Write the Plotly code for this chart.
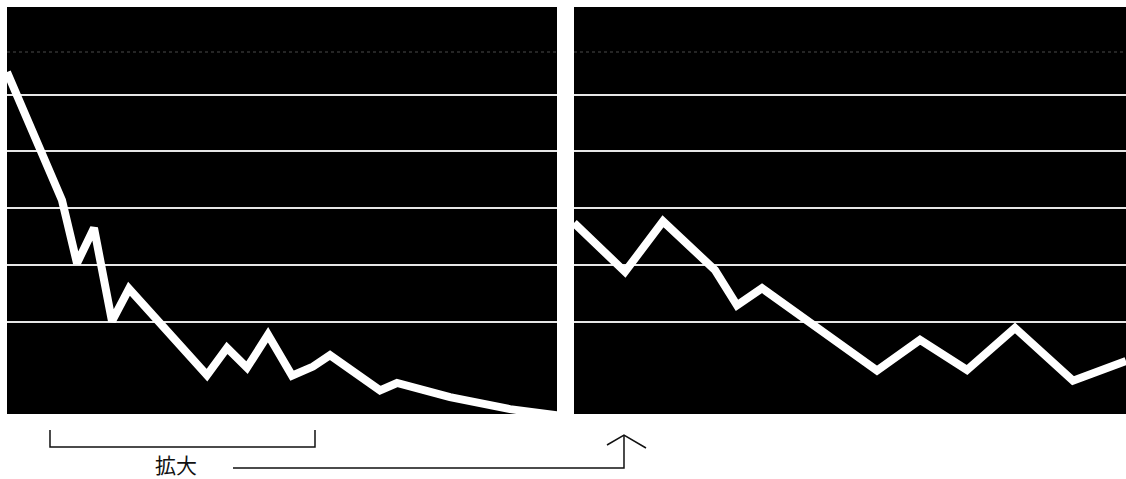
import plotly.graph_objects as go

# Full series (left panel)
full_x = [0, 11, 14, 17.4, 21, 24.4, 40, 44, 48, 52.2, 57, 61.2, 64.6, 74.6, 78, 88.6, 100.6, 110]
full_y = [64.0, 41.4, 30.3, 36.5, 20.1, 25.8, 10.6, 15.4, 11.9, 17.7, 10.5, 12.1, 14.1, 7.9, 9.2, 6.7, 4.6, 3.5]

# Magnified section (right panel)
zoom_x = [0, 10.2, 17.8, 28.2, 32.6, 37.6, 60.6, 69.2, 78.6, 88.2, 99.8, 110.4]
zoom_y = [37.4, 28.8, 37.7, 29.1, 22.9, 25.9, 11.4, 16.8, 11.5, 18.9, 9.6, 13.1]

grid_vals = [20, 30, 40, 50, 60]
caption = "拡大"

W, H = 1126, 479


def fx(x):
    return x / W


def fy(y):
    return 1 - y / H


def path(points):
    return "M " + " L ".join(f"{fx(x):.5f},{fy(y):.5f}" for x, y in points)


fig = go.Figure()
fig.add_trace(go.Scatter(x=full_x, y=full_y, mode="lines",
                         line=dict(color="white", width=8),
                         xaxis="x", yaxis="y", hoverinfo="skip"))
fig.add_trace(go.Scatter(x=zoom_x, y=zoom_y, mode="lines",
                         line=dict(color="white", width=8),
                         xaxis="x2", yaxis="y2", hoverinfo="skip"))

yax = dict(range=[3.74, 75.45], tickvals=grid_vals, showticklabels=False,
           showgrid=True, gridcolor="#e6e6e6", gridwidth=1.5, zeroline=False,
           showline=False, ticks="", fixedrange=True)
ydom = [fy(414), fy(7)]

fig.update_layout(
    width=W, height=H,
    margin=dict(l=0, r=0, t=0, b=0),
    paper_bgcolor="white",
    plot_bgcolor="black",
    showlegend=False,
    xaxis=dict(domain=[fx(7), fx(557)], range=[0, 110], showgrid=False,
               zeroline=False, showticklabels=False, ticks="", anchor="y"),
    xaxis2=dict(domain=[fx(574), 1.0], range=[0, 110.4], showgrid=False,
                zeroline=False, showticklabels=False, ticks="", anchor="y2"),
    yaxis=dict(domain=ydom, anchor="x", **yax),
    yaxis2=dict(domain=ydom, anchor="x2", **yax),
)

# faint upper rule in both panels
for xr, yr, x1 in (("x", "y", 110), ("x2", "y2", 110.4)):
    fig.add_shape(type="line", xref=xr, yref=yr, x0=0, x1=x1, y0=67.5, y1=67.5,
                  line=dict(color="rgba(200,200,200,0.25)", width=1.5, dash="dot"),
                  layer="below")

ink = dict(color="#111111", width=1.5)
# bracket marking the magnified range
fig.add_shape(type="path", xref="paper", yref="paper",
              path=path([(50, 430), (50, 447), (315, 447), (315, 430)]), line=ink)
# connector to the right panel
fig.add_shape(type="path", xref="paper", yref="paper",
              path=path([(233, 468), (624, 468), (624, 435)]), line=ink)
fig.add_shape(type="path", xref="paper", yref="paper",
              path=path([(607, 445), (624, 435), (646, 448)]), line=ink)

fig.add_annotation(x=fx(176), y=fy(464), xref="paper", yref="paper",
                   text=caption, showarrow=False,
                   font=dict(family="Noto Sans CJK JP", size=21, color="#111111"),
                   xanchor="center", yanchor="middle")

fig.write_html("out.html")
